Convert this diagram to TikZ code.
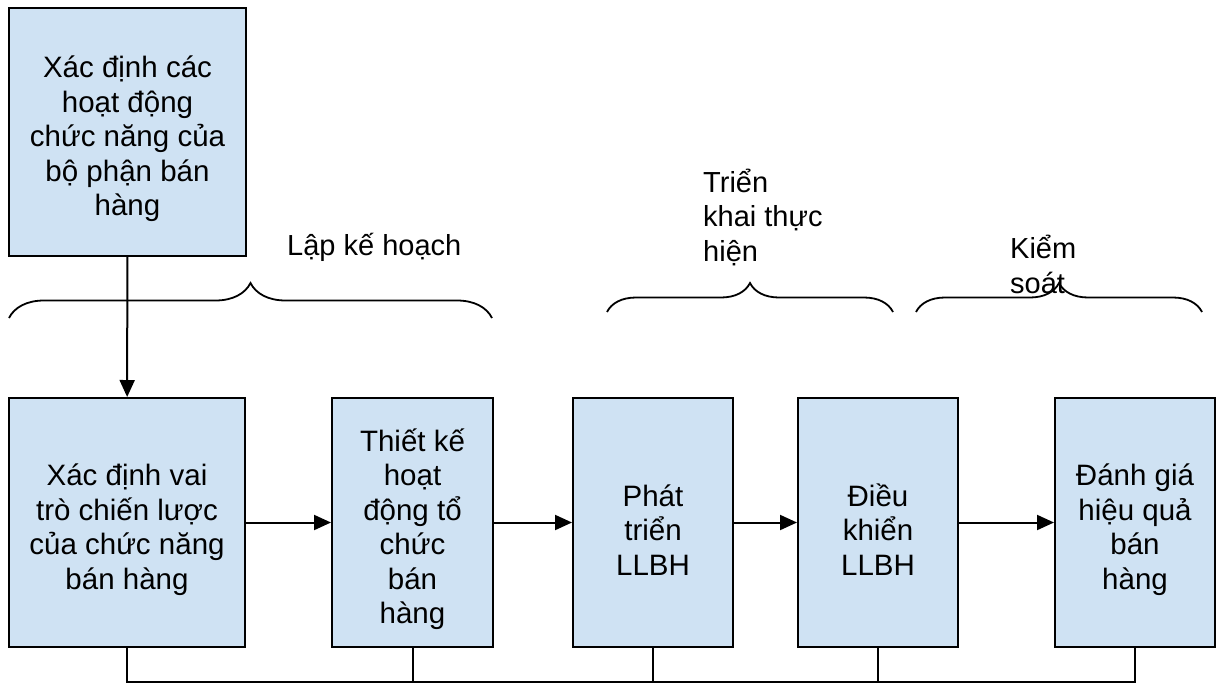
\documentclass[tikz,border=0pt]{standalone}
\usepackage{fontspec}
\setmainfont{Liberation Sans}
\usetikzlibrary{arrows.meta,decorations.pathreplacing}
\definecolor{boxblue}{RGB}{207,226,243}

\begin{document}
\begin{tikzpicture}[x=1pt,y=-1pt]
    \def\bh{249}
    \def\my{522.5}
    \tikzstyle{stage}=[draw=black, line width=2pt, fill=boxblue, inner sep=0pt,
                       align=center, font=\fontsize{29.5}{34.5}\selectfont]
    \tikzstyle{phase}=[font=\fontsize{29}{34.5}\selectfont, align=left, anchor=base west, inner sep=0pt]

    \useasboundingbox (0,0) rectangle (1217,685);

    % planning box above the chain
    \node[stage, minimum width=237, minimum height=248] (top) at (127.5,132)
        {\rule{0pt}{36pt}Xác định các\\hoạt động\\chức năng của\\bộ phận bán\\hàng};

    % the chain of stages
    \node[stage, minimum width=236, minimum height=\bh] (b1) at (127,\my)
        {\rule{0pt}{36pt}Xác định vai\\trò chiến lược\\của chức năng\\bán hàng};
    \node[stage, minimum width=161, minimum height=\bh] (b2) at (412.5,\my)
        {\rule{0pt}{36pt}Thiết kế\\hoạt\\động tổ\\chức\\bán\\hàng};
    \node[stage, minimum width=160, minimum height=\bh] (b3) at (653,\my)
        {\rule{0pt}{36pt}Phát\\triển\\LLBH};
    \node[stage, minimum width=160, minimum height=\bh] (b4) at (878,\my)
        {\rule{0pt}{36pt}Điều\\khiển\\LLBH};
    \node[stage, minimum width=160, minimum height=\bh] (b5) at (1135,\my)
        {\rule{0pt}{36pt}Đánh giá\\hiệu quả\\bán\\hàng};

    % phase labels (base sits on the last line)
    \node[phase] (plan) at (287,255) {Lập kế hoạch};
    \node[phase] (run) at (703,261) {Triển\\khai thực\\hiện};
    \node[phase] (ctrl) at (1010,293) {Kiểm\\soát};

    % braces over the phases
    \coordinate (p1) at (9,318);    \coordinate (p2) at (492,318);
    \coordinate (r1) at (607,312);  \coordinate (r2) at (893,312);
    \coordinate (c1) at (916,312);  \coordinate (c2) at (1202,312);
    \draw[line width=1.8pt, decorate, decoration={brace, amplitude=35pt}] (p1) -- (p2);
    \draw[line width=1.8pt, decorate, decoration={brace, amplitude=29pt}] (r1) -- (r2);
    \draw[line width=1.8pt, decorate, decoration={brace, amplitude=29pt}] (c1) -- (c2);

    \tikzstyle{flow} = [-{Triangle[length=17pt,width=15pt]}, line width=2pt]
    \tikzstyle{back} = [line width=2pt]

          \draw [flow] (top) -- (b1);
          \draw [flow] (b1) -- (b2);
          \draw [flow] (b2) -- (b3);
          \draw [flow] (b3) -- (b4);
          \draw [flow] (b4) -- (b5);

          % feedback bus under the boxes
          \coordinate (bus) at (0,682);
          \draw [back] (b1.south) -- (b1.south |- bus) -- (b5.south |- bus) -- (b5.south);
          \draw [back] (b2.south) -- (b2.south |- bus);
          \draw [back] (b3.south) -- (b3.south |- bus);
          \draw [back] (b4.south) -- (b4.south |- bus);
\end{tikzpicture}
\end{document}
